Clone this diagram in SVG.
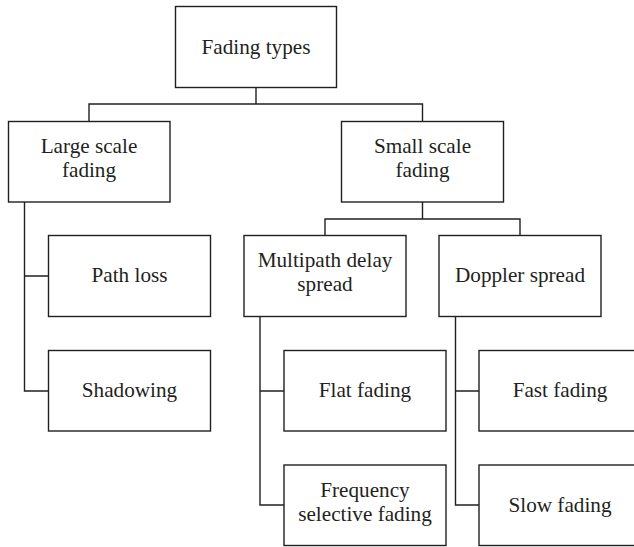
<svg xmlns="http://www.w3.org/2000/svg" width="634" height="547" viewBox="0 0 634 547">
<style>
.box{fill:#fff;stroke:#231f20;stroke-width:1.4}
.lbl{font-family:'Liberation Serif','DejaVu Serif','Times New Roman',serif;font-size:21.2px;fill:#231f20;text-anchor:middle}
.con{fill:none;stroke:#231f20;stroke-width:1.4}
</style>
<rect width="634" height="547" fill="#fff"/>
<g id="connectors" class="con">
<path d="M256 87.5V104M89 121.5V104H422.5V121.5"/>
<path d="M24.5 202V391H48.5M24.5 276H48.5"/>
<path d="M422.5 202V219M325 235.5V219H520V235.5"/>
<path d="M260 316.5V505H284M260 391H284"/>
<path d="M455.5 316.5V505H479M455.5 391H479"/>
</g>
<g id="fading-types"><rect class="box" x="175.5" y="6.5" width="161" height="81"/><text class="lbl" x="256" y="54">Fading types</text></g>
<g id="large-scale"><rect class="box" x="8.5" y="121.5" width="161.5" height="80.5"/><text class="lbl" x="89" y="153">Large scale</text><text class="lbl" x="89" y="177">fading</text></g>
<g id="small-scale"><rect class="box" x="341.5" y="121.5" width="162" height="80.5"/><text class="lbl" x="422.5" y="153">Small scale</text><text class="lbl" x="422.5" y="177">fading</text></g>
<g id="path-loss"><rect class="box" x="48.5" y="235.5" width="162" height="81"/><text class="lbl" x="129.5" y="282">Path loss</text></g>
<g id="shadowing"><rect class="box" x="48.5" y="350.5" width="162" height="80.5"/><text class="lbl" x="129.5" y="397">Shadowing</text></g>
<g id="multipath"><rect class="box" x="244" y="235.5" width="162" height="81"/><text class="lbl" x="325" y="267">Multipath delay</text><text class="lbl" x="325" y="291">spread</text></g>
<g id="doppler"><rect class="box" x="439" y="235.5" width="162" height="81"/><text class="lbl" x="520" y="282">Doppler spread</text></g>
<g id="flat-fading"><rect class="box" x="284" y="350.5" width="162" height="80.5"/><text class="lbl" x="365" y="397">Flat fading</text></g>
<g id="freq-selective"><rect class="box" x="284" y="465" width="162" height="80.5"/><text class="lbl" x="365" y="497">Frequency</text><text class="lbl" x="365" y="521">selective fading</text></g>
<g id="fast-fading"><rect class="box" x="479" y="350.5" width="162" height="80.5"/><text class="lbl" x="560" y="397">Fast fading</text></g>
<g id="slow-fading"><rect class="box" x="479" y="465" width="162" height="80.5"/><text class="lbl" x="560" y="512">Slow fading</text></g>
</svg>
